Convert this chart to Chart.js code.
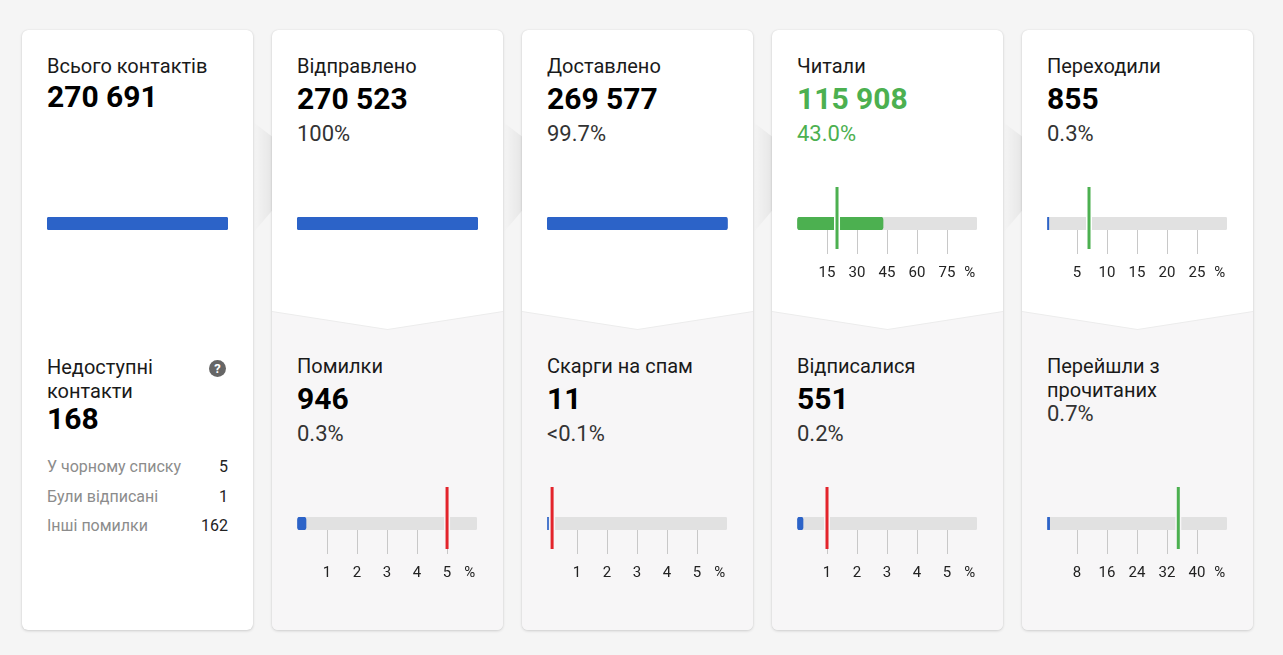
<!DOCTYPE html>
<html lang="uk">
<head>
<meta charset="utf-8">
<script src="https://cdn.jsdelivr.net/npm/chart.js@4.4.0/dist/chart.umd.min.js"></script>
<style>
  body { margin: 0; width: 1283px; height: 655px; overflow: hidden; position: relative; background: #f5f5f5; font-family: Roboto, "Noto Sans", sans-serif; }
  .card { position: absolute; top: 30px; width: 231px; height: 600px; background: #fff; border-radius: 6px; box-shadow: 0 1px 3px rgba(0,0,0,0.16), 0 0 1px rgba(0,0,0,0.12); overflow: hidden; }
  .lower-edge, .lower { position: absolute; left: 0; right: 0; bottom: 0; clip-path: polygon(0 0, 50% 18px, 100% 0, 100% 100%, 0 100%); }
  .lower-edge { top: 281px; background: #ececec; }
  .lower { top: 282px; background: #f7f6f7; }
  .arrow { position: absolute; top: 122px; width: 19px; height: 111px; background: linear-gradient(to right, rgba(0,0,0,0.0), rgba(0,0,0,0.06)); clip-path: polygon(0 0, 100% 13%, 100% 80%, 0 100%); }
  .txt { position: absolute; left: 25px; width: 181px; }
  .title { font-size: 20px; line-height: 24px; color: #1a1a1a; }
  .count { font-size: 30px; font-weight: 700; line-height: 34px; color: #000; }
  .share { font-size: 22px; line-height: 26px; color: #333; }
  .green { color: #4cb050; }
  .help { position: absolute; left: 187px; top: 330px; width: 17px; height: 17px; border-radius: 50%; background: #666; color: #fff; font-size: 13px; font-weight: 700; line-height: 17px; text-align: center; }
  .row { position: absolute; left: 25px; width: 181px; height: 30px; line-height: 30px; font-size: 16px; color: #8c8c8c; }
  .row span { position: absolute; right: 0; color: #222; }
  canvas { position: absolute; left: 5px; }
</style>
</head>
<body>
<script>
// upper row: one card per funnel step
const topLabels = ["Всього контактів", "Відправлено", "Доставлено", "Читали", "Переходили"];
const topCounts = ["270 691", "270 523", "269 577", "115 908", "855"];
const topShares = ["", "100%", "99.7%", "43.0%", "0.3%"];
const topValues = [100, 100, 99.7, 43.0, 0.3];
const topMax = [100, 100, 100, 90, 30];
const topMarkers = [null, null, null, 20, 7];
const topSteps = [null, null, null, 15, 5];

// lower row, cards 2..5
const bottomLabels = ["Помилки", "Скарги на спам", "Відписалися", "Перейшли з прочитаних"];
const bottomCounts = ["946", "11", "551", ""];
const bottomShares = ["0.3%", "<0.1%", "0.2%", "0.7%"];
const bottomValues = [0.3, 0.004, 0.2, 0.7];
const bottomMax = [6, 6, 6, 48];
const bottomMarkers = [5, 0.17, 1, 35];
const bottomSteps = [1, 1, 1, 8];

// unavailable contacts breakdown (first card)
const unavailableLabel = "Недоступні контакти";
const unavailableCount = "168";
const blockedLabels = ["У чорному списку", "Були відписані", "Інші помилки"];
const blockedCounts = [5, 1, 162];

const BLUE = "#2c63c8", GREEN = "#4cb050", RED = "#e3242b";

const markerPlugin = {
  id: "marker",
  afterDatasetsDraw(chart, args, opts) {
    if (opts.value == null) return;
    const { ctx, chartArea } = chart;
    const x = chart.scales.x.getPixelForValue(opts.value);
    ctx.save();
    ctx.fillStyle = opts.gap;
    ctx.fillRect(x - 3, chartArea.top, 6, chartArea.bottom - chartArea.top);
    ctx.fillStyle = opts.color;
    ctx.fillRect(x - 1.5, chartArea.top - 30, 3, chartArea.bottom - chartArea.top + 49);
    ctx.restore();
  }
};

function makeBullet(card, top, value, max, marker, step, barColor, markerColor, gap) {
  const canvas = document.createElement("canvas");
  // the "%" label pushes the plot area in by ~2px, so axis charts get a wider canvas
  canvas.width = step ? 223 : 221;
  canvas.height = 105;
  canvas.style.top = top + "px";
  card.appendChild(canvas);
  const xScale = {
    display: !!step,
    min: 0,
    max: max,
    border: { display: false },
    grid: {
      drawOnChartArea: false,
      tickLength: 24,
      lineWidth: 1,
      color: ctx => (ctx.tick && (ctx.tick.value === 0 || ctx.tick.value === max)) ? "rgba(0,0,0,0)" : "#c8c8c8"
    },
    ticks: {
      stepSize: step || 10,
      padding: 10,
      color: "#222",
      font: { size: 15, family: "Roboto" },
      // trailing spaces nudge the "%" a little left of the last tick, as in the original
      callback: v => v === 0 ? "" : (v === max ? "%    " : v)
    }
  };
  if (step) xScale.afterFit = s => { s.height = 55; };
  new Chart(canvas, {
    type: "bar",
    data: {
      labels: [""],
      datasets: [
        { data: [value], backgroundColor: barColor, borderRadius: 3, borderSkipped: false, minBarLength: 1.5, order: 1 },
        { data: [max], backgroundColor: "#e1e1e1", borderRadius: 3, borderSkipped: false, order: 2 }
      ]
    },
    options: {
      indexAxis: "y",
      responsive: false,
      animation: false,
      datasets: { bar: { grouped: false, barPercentage: 1, categoryPercentage: 1 } },
      layout: { padding: { top: 37, left: 20, right: 20, bottom: step ? 0 : 55 } },
      plugins: {
        legend: { display: false },
        tooltip: { enabled: false },
        marker: { value: marker, color: markerColor, gap: gap }
      },
      scales: {
        y: { display: false },
        x: xScale
      }
    },
    plugins: [markerPlugin]
  });
}

function addText(card, cls, text, top) {
  const d = document.createElement("div");
  d.className = "txt " + cls;
  d.style.top = top + "px";
  d.textContent = text;
  card.appendChild(d);
  return d;
}

for (let i = 0; i < 4; i++) {
  const a = document.createElement("div");
  a.className = "arrow";
  a.style.left = (253 + i * 250) + "px";
  document.body.appendChild(a);
}

topLabels.forEach((label, i) => {
  const card = document.createElement("div");
  card.className = "card";
  card.style.left = (22 + i * 250) + "px";
  document.body.appendChild(card);

  if (i > 0) {
    const edge = document.createElement("div");
    edge.className = "lower-edge";
    card.appendChild(edge);
    const low = document.createElement("div");
    low.className = "lower";
    card.appendChild(low);
  }

  const isRead = label === "Читали";
  addText(card, "title", label, 24);
  addText(card, "count" + (isRead ? " green" : ""), topCounts[i], i === 0 ? 50 : 52);
  if (topShares[i]) addText(card, "share" + (isRead ? " green" : ""), topShares[i], 91);
  makeBullet(card, 150, topValues[i], topMax[i], topMarkers[i], topSteps[i],
    isRead ? GREEN : BLUE, GREEN, "#ffffff");

  if (i === 0) {
    addText(card, "title", unavailableLabel, 325).style.width = "150px";
    addText(card, "count", unavailableCount, 372);
    const help = document.createElement("div");
    help.className = "help";
    help.textContent = "?";
    card.appendChild(help);
    blockedLabels.forEach((bl, k) => {
      const r = document.createElement("div");
      r.className = "row";
      r.style.top = (422 + k * 29.5) + "px";
      r.innerHTML = bl + "<span>" + blockedCounts[k] + "</span>";
      card.appendChild(r);
    });
  } else {
    const j = i - 1;
    addText(card, "title", bottomLabels[j], 324);
    if (bottomCounts[j]) {
      addText(card, "count", bottomCounts[j], 352);
      addText(card, "share", bottomShares[j], 391);
    } else {
      addText(card, "share", bottomShares[j], 371);
    }
    makeBullet(card, 450, bottomValues[j], bottomMax[j], bottomMarkers[j], bottomSteps[j],
      BLUE, j === 3 ? GREEN : RED, "#f7f6f7");
  }
});
</script>
</body>
</html>
